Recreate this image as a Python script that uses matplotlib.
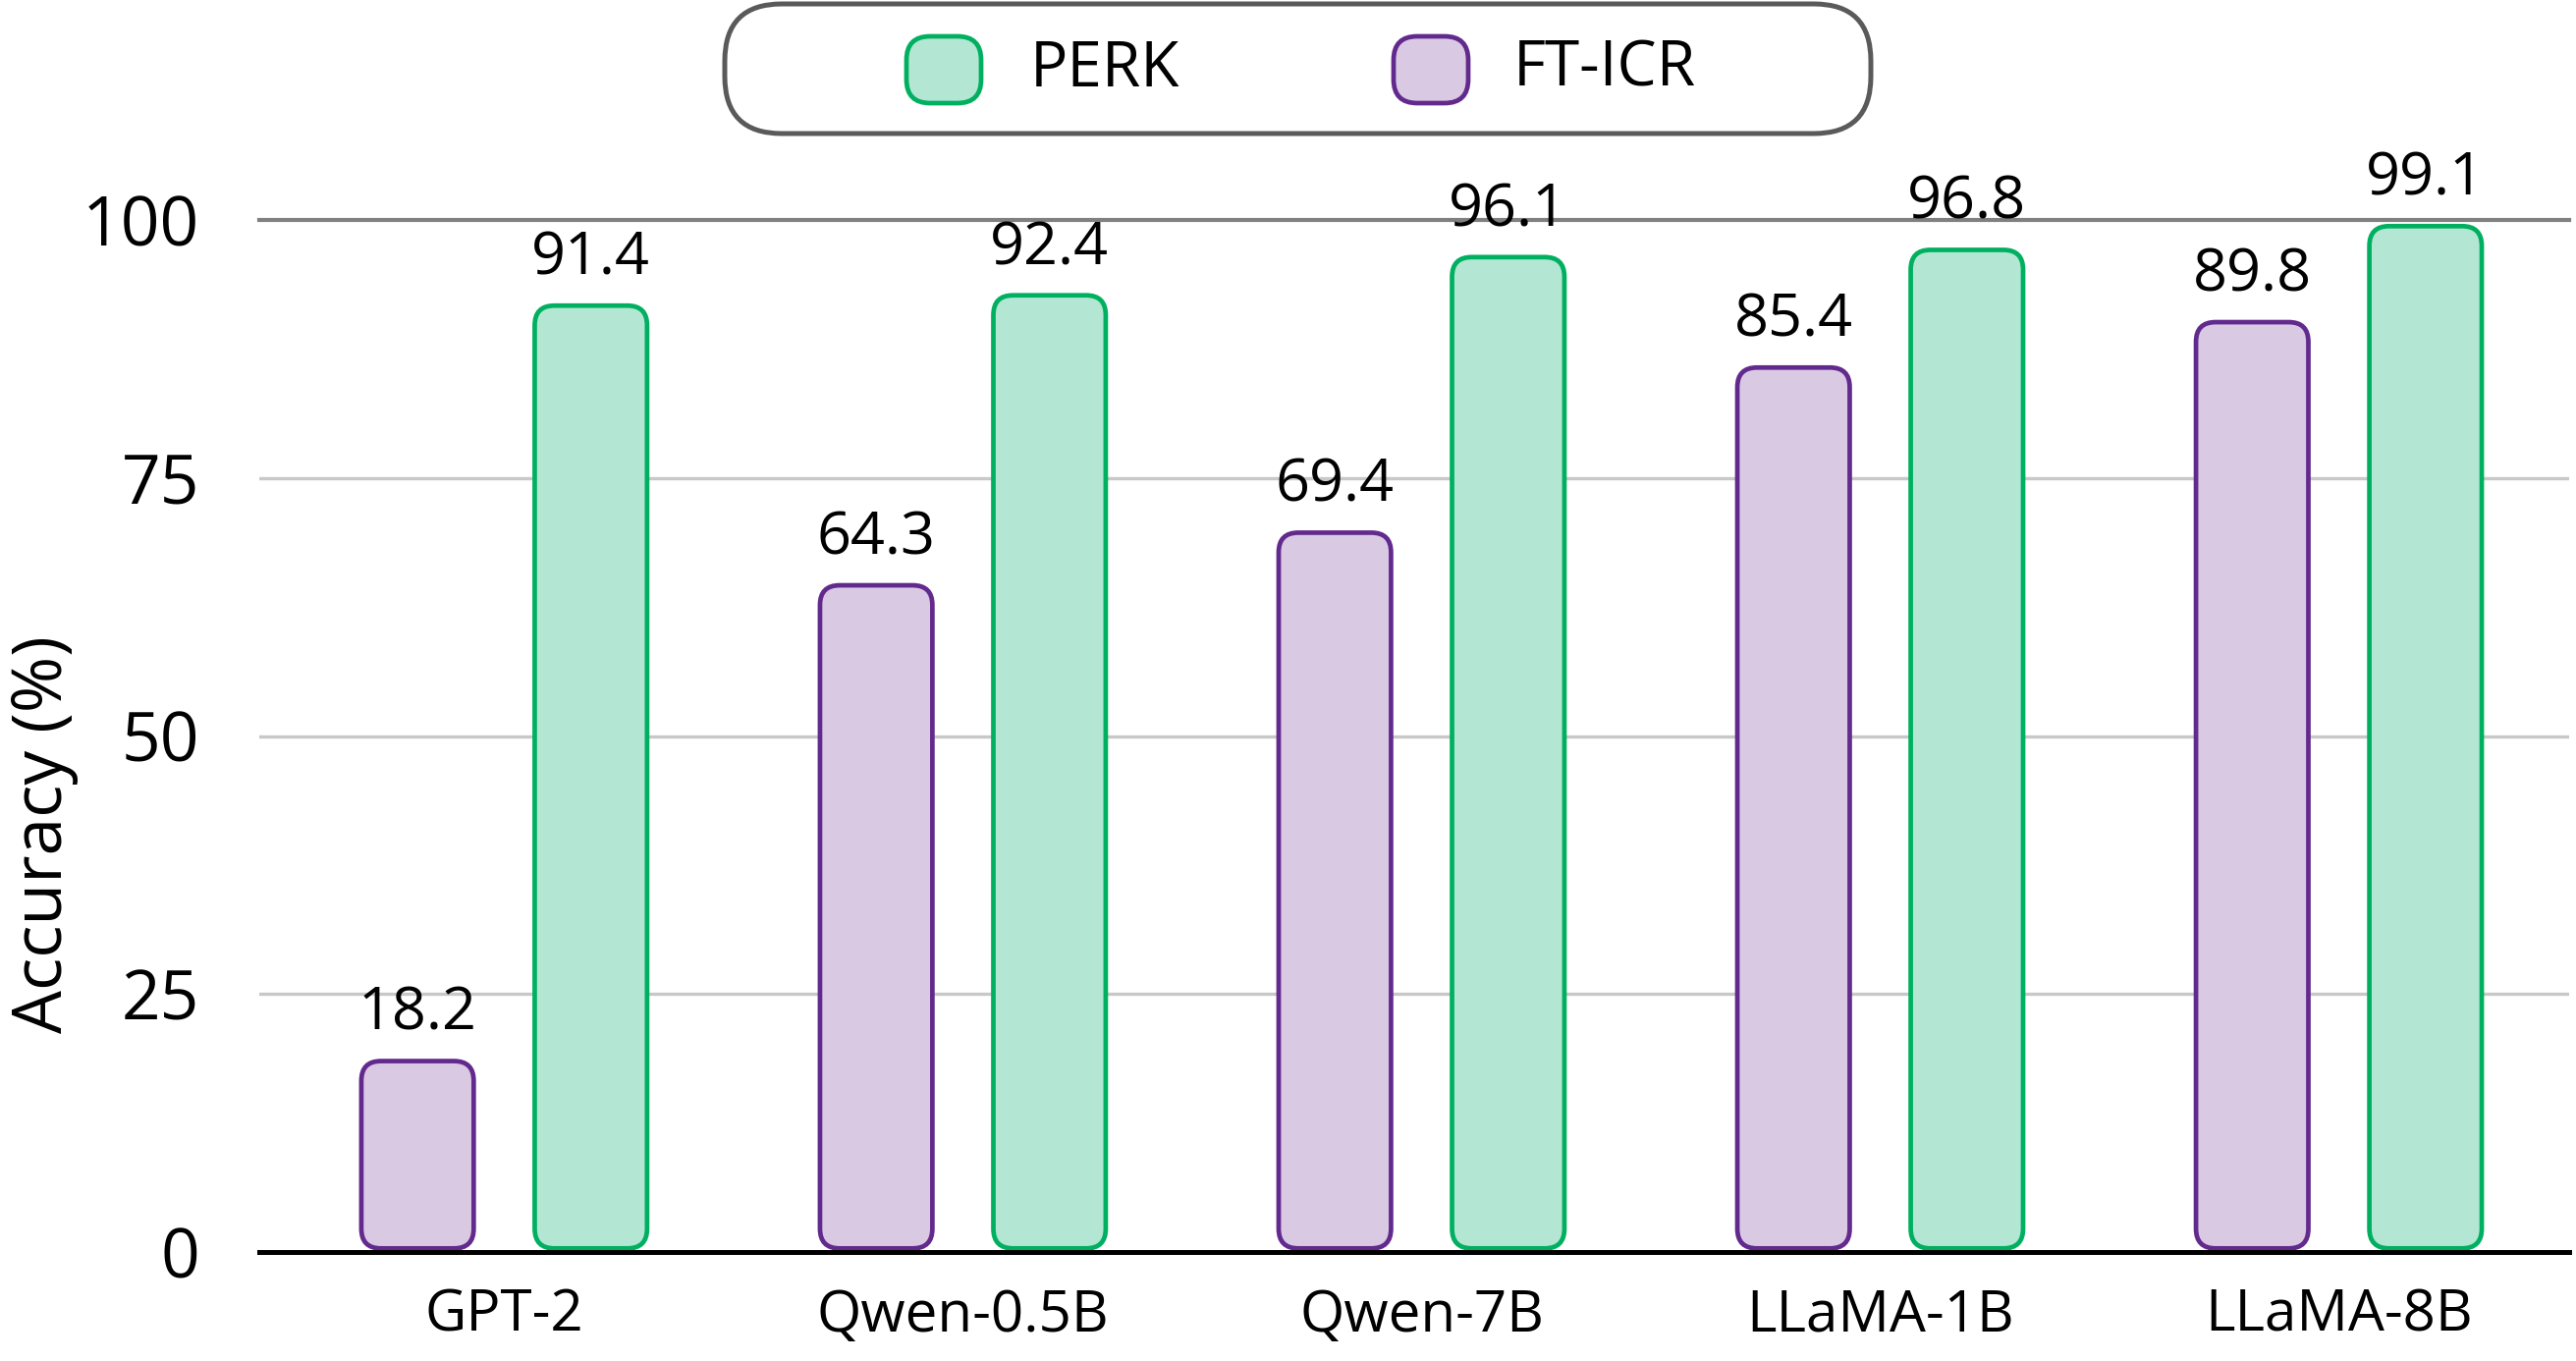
import matplotlib
matplotlib.use("Agg")
import matplotlib.pyplot as plt
from matplotlib.patches import FancyBboxPatch
import numpy as np

categories = ["GPT-2", "Qwen-0.5B", "Qwen-7B", "LLaMA-1B", "LLaMA-8B"]
ft_icr = [18.2, 64.3, 69.4, 85.4, 89.8]
perk = [91.4, 92.4, 96.1, 96.8, 99.1]
yticks = [0, 25, 50, 75, 100]

PERK_FILL, PERK_EDGE = "#b3e6d3", "#00b060"
FT_FILL, FT_EDGE = "#d9c9e3", "#632a8e"

plt.rcParams['font.family'] = ['Open Sans', 'DejaVu Sans']

W, H, DPI = 2623, 1386, 200
fig = plt.figure(figsize=(W / DPI, H / DPI), dpi=DPI)
ax = fig.add_axes([264 / W, 1 - 1275 / H, (2616 - 264) / W, (1275 - 224) / H])

x = np.arange(len(categories))
off, bw = 0.189, 0.245
ax.set_xlim(-0.534, 4.502)
ax.set_ylim(0, 100)

# conversion factor for round corners
axw = (2616 - 264)
axh = (1275 - 224)
xu_per_px = (4.502 + 0.534) / axw
yu_per_px = 100 / axh
aspect = yu_per_px / xu_per_px
r_px = 20

def rounded(bars, fc, ec):
    for b in bars:
        x0, w, h = b.get_x(), b.get_width(), b.get_height()
        y0 = 0.35
        p = FancyBboxPatch((x0, y0), w, h - y0 + 0.3,
                           boxstyle=f"round,pad=0,rounding_size={r_px * xu_per_px}",
                           mutation_aspect=aspect, fc=fc, ec=ec, lw=1.7, zorder=2)
        ax.add_patch(p)
        b.set_visible(False)

b1 = ax.bar(x - off, ft_icr, bw)
b2 = ax.bar(x + off, perk, bw)
rounded(b1, FT_FILL, FT_EDGE)
rounded(b2, PERK_FILL, PERK_EDGE)

for xs, vals in ((x - off, ft_icr), (x + off, perk)):
    for xi, v in zip(xs, vals):
        ax.annotate(f"{v:.1f}", (xi, v), xytext=(0, 12.5), textcoords="offset points",
                    ha="center", va="baseline", fontsize=22, clip_on=False)

for yv in [25, 50, 75]:
    ax.axhline(yv, color="#c8c8c8", lw=1.2, zorder=1)

for s in ["left", "right"]:
    ax.spines[s].set_visible(False)
ax.spines["top"].set_color("#808080")
ax.spines["top"].set_linewidth(1.5)
ax.spines["bottom"].set_color("black")
ax.spines["bottom"].set_linewidth(1.8)
ax.spines["bottom"].set_zorder(3)

ax.set_yticks(yticks)
ax.set_yticklabels([str(t) for t in yticks], fontsize=25)
ax.set_xticks(x)
ax.set_xticklabels(categories, fontsize=21)
ax.tick_params(axis="y", length=0, pad=22)
ax.tick_params(axis="x", length=0, pad=13)

fig.text(45 / W, 1 - 850 / H, "Accuracy (%)", rotation=90, ha="center", va="center", fontsize=25)

# legend
tr = fig.dpi_scale_trans
def px(v):
    return v / DPI
lx0, lx1, ly0, ly1 = 738, 1905, 4, 136
leg = FancyBboxPatch((px(lx0), px(H - ly1)), px(lx1 - lx0), px(ly1 - ly0),
                     boxstyle=f"round,pad=0,rounding_size={px(58)}",
                     transform=tr, fc="white", ec="#5a5a5a", lw=1.8, zorder=5)
fig.patches.append(leg)
for hx, fc, ec, label, tx in ((923, PERK_FILL, PERK_EDGE, "PERK", 1049),
                              (1419, FT_FILL, FT_EDGE, "FT-ICR", 1541)):
    h = FancyBboxPatch((px(hx), px(H - 105)), px(76), px(68),
                       boxstyle=f"round,pad=0,rounding_size={px(24)}",
                       transform=tr, fc=fc, ec=ec, lw=1.7, zorder=6)
    fig.patches.append(h)
    fig.text(tx / W, 1 - 71 / H, label, ha="left", va="center", fontsize=23, zorder=7)

fig.savefig("out.png", dpi=DPI)
